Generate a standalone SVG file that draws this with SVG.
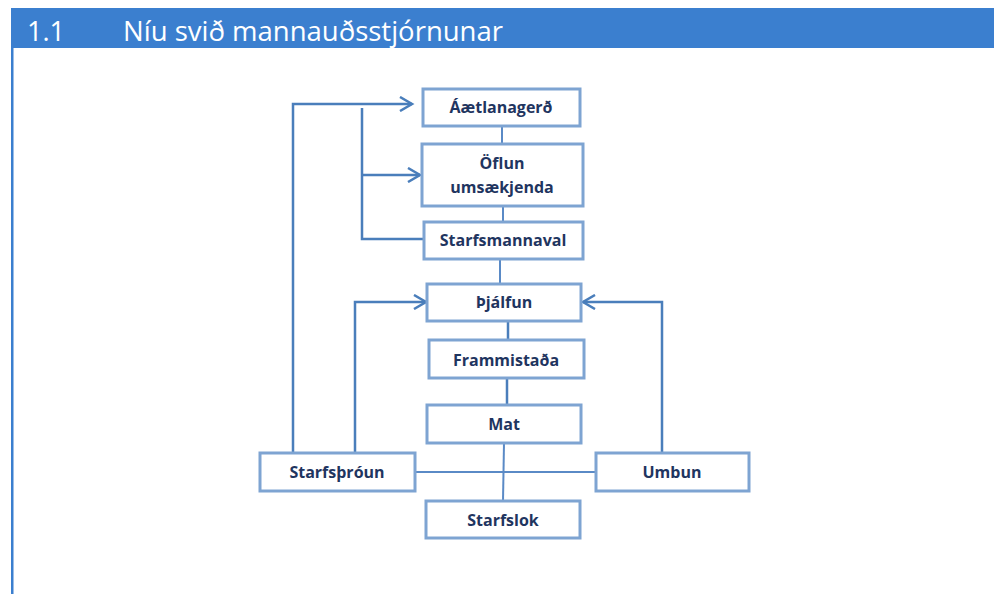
<svg xmlns="http://www.w3.org/2000/svg" width="994" height="594" viewBox="0 0 994 594">
<defs>
<style>
.box{fill:#fff;stroke:#7ea4d2;stroke-width:3}
.lbl{font-family:"Open Sans","Liberation Sans",sans-serif;font-weight:bold;font-size:16px;fill:#1f3560;text-anchor:middle;dominant-baseline:central}
.con{fill:none;stroke:#4a7ebb;stroke-width:2.5}
.link{fill:none;stroke:#5a8ac6;stroke-width:2}
</style>
<marker id="chev" markerWidth="16" markerHeight="16" refX="13" refY="8" orient="auto" markerUnits="userSpaceOnUse">
<path d="M1,1 L13,8 L1,15" fill="none" stroke="#4a7ebb" stroke-width="2.5"/>
</marker>
</defs>
<rect width="994" height="594" fill="#fff"/>
<g id="header">
<rect x="11" y="8" width="983" height="40" fill="#3b7fcf"/>
<rect x="11" y="48" width="2.5" height="546" fill="#3b7fcf"/>
<text x="27" y="41" font-family="'Open Sans','Noto Sans',sans-serif" font-size="28" fill="#fff" textLength="38" lengthAdjust="spacingAndGlyphs">1.1</text>
<text x="123" y="41" font-family="'Open Sans','Noto Sans',sans-serif" font-size="28" fill="#fff" textLength="380" lengthAdjust="spacingAndGlyphs">Níu svið mannauðsstjórnunar</text>
</g>
<g id="connectors">
<line class="link" x1="502" y1="126" x2="502" y2="144"/>
<line class="link" x1="503" y1="206" x2="503" y2="222"/>
<line class="link" x1="500" y1="259" x2="500" y2="284"/>
<line class="con" x1="508" y1="321" x2="508" y2="340"/>
<line class="con" x1="507" y1="378" x2="507" y2="405"/>
<line class="link" x1="504" y1="443" x2="503" y2="501"/>
<line class="link" x1="415" y1="472" x2="596" y2="472"/>
<polyline class="con" points="293,453 293,104 412,104" marker-end="url(#chev)"/>
<polyline class="con" points="362,108 362,239 424,239"/>
<line class="con" x1="362" y1="175" x2="420" y2="175" marker-end="url(#chev)"/>
<polyline class="con" points="355,453 355,302 426,302" marker-end="url(#chev)"/>
<polyline class="con" points="662,453 662,302 583,302" marker-end="url(#chev)"/>
</g>
<g id="n-aaetlanagerd"><rect class="box" x="423" y="89" width="157" height="37"/><text class="lbl" x="501" y="107">Áætlanagerð</text></g>
<g id="n-oflun"><rect class="box" x="422" y="144" width="161" height="62"/><text class="lbl" x="502" y="163">Öflun</text><text class="lbl" x="502" y="187">umsækjenda</text></g>
<g id="n-starfsmannaval"><rect class="box" x="424" y="222" width="159" height="37"/><text class="lbl" x="503" y="240">Starfsmannaval</text></g>
<g id="n-thjalfun"><rect class="box" x="427" y="284" width="154" height="37"/><text class="lbl" x="504" y="302">Þjálfun</text></g>
<g id="n-frammistada"><rect class="box" x="429" y="340" width="155" height="38"/><text class="lbl" x="506" y="360">Frammistaða</text></g>
<g id="n-mat"><rect class="box" x="427" y="405" width="154" height="38"/><text class="lbl" x="504" y="424">Mat</text></g>
<g id="n-starfsthroun"><rect class="box" x="260" y="453" width="155" height="38"/><text class="lbl" x="337" y="472">Starfsþróun</text></g>
<g id="n-umbun"><rect class="box" x="596" y="453" width="153" height="38"/><text class="lbl" x="672" y="472">Umbun</text></g>
<g id="n-starfslok"><rect class="box" x="426" y="501" width="154" height="37"/><text class="lbl" x="503" y="520">Starfslok</text></g>
</svg>
